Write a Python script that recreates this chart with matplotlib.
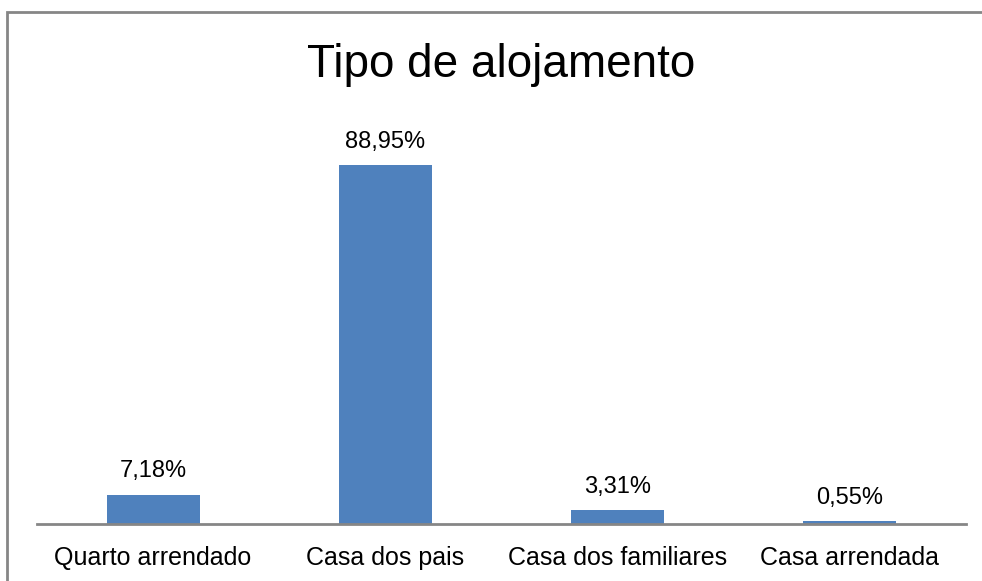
import matplotlib
matplotlib.use("Agg")
import matplotlib.pyplot as plt
from matplotlib.patches import Rectangle

categories = ["Quarto arrendado", "Casa dos pais", "Casa dos familiares", "Casa arrendada"]
values = [7.18, 88.95, 3.31, 0.55]
labels = ["7,18%", "88,95%", "3,31%", "0,55%"]
title = "Tipo de alojamento"

W, H = 982, 581
fig = plt.figure(figsize=(W / 100, H / 100), dpi=100)
plt.rcParams['font.family'] = ['Liberation Sans', 'DejaVu Sans']

# outer chart border
fig.patches.append(Rectangle((6.5 / W, -0.05), 1.2, 1 - 12.5 / H + 0.05,
                             transform=fig.transFigure, fill=False,
                             edgecolor='#868686', linewidth=2))

left, right = 37 / W, 966 / W
bottom = 1 - 523.5 / H
top = 1 - 120.5 / H
ax = fig.add_axes([left, bottom, right - left, top - bottom])
x = list(range(len(categories)))
ax.bar(x, values, width=0.4, color='#4F81BD')
ax.set_xlim(-0.5, 3.5)
ax.set_ylim(0, 100)
for xi, v, lab in zip(x, values, labels):
    ax.annotate(lab, (xi, v), xytext=(0, 9), textcoords='offset points',
                ha='center', va='bottom', fontsize=17, color='#000000')
ax.set_xticks(x)
ax.set_xticklabels(categories, fontsize=18)
ax.tick_params(axis='x', length=0, pad=16)
ax.set_yticks([])
for s in ['top', 'right', 'left']:
    ax.spines[s].set_visible(False)
ax.spines['bottom'].set_color('#868686')
ax.spines['bottom'].set_linewidth(2)
ax.patch.set_alpha(0)

fig.text(501 / W, 1 - 65 / H, title, ha='center', va='center', fontsize=33)

fig.savefig("out.png", dpi=100)
